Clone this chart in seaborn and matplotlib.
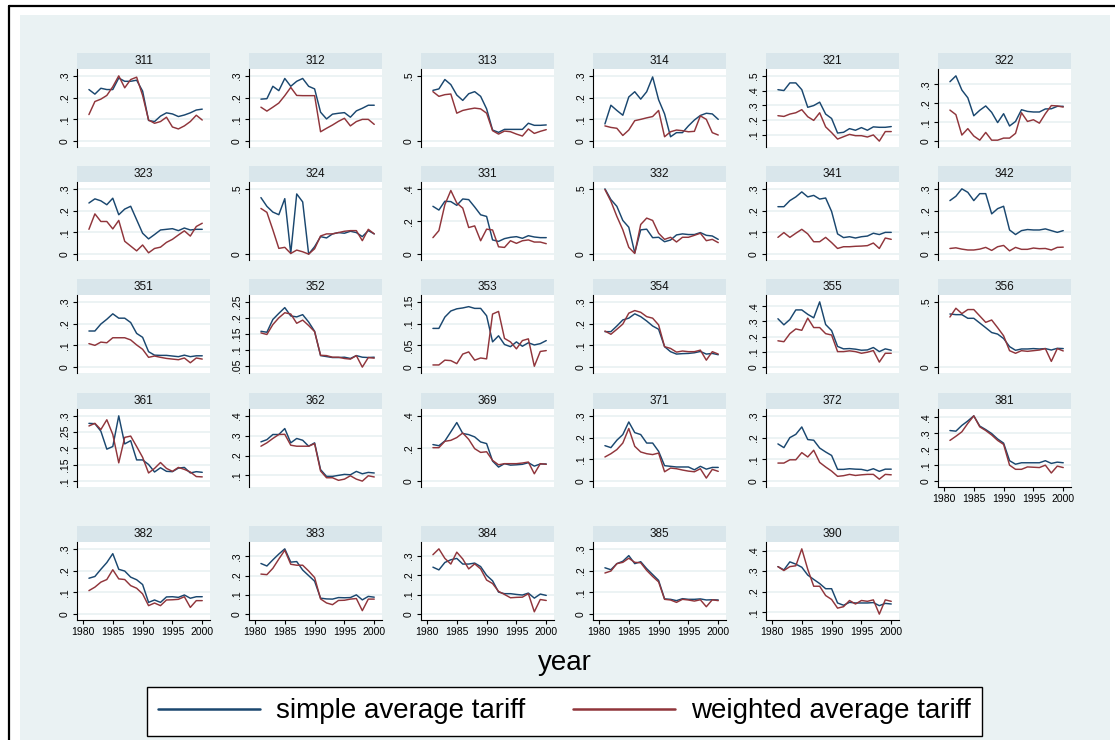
import pandas as pd
import seaborn as sns
import matplotlib.pyplot as plt
from matplotlib.patches import Rectangle
from matplotlib.lines import Line2D

sns.set_theme(style="white")
plt.rcParams["font.family"] = ["Liberation Sans", "DejaVu Sans"]
plt.rcParams["text.color"] = "black"
plt.rcParams["xtick.color"] = "black"
plt.rcParams["ytick.color"] = "black"

BLUE = "#1a476f"
RED = "#90353b"
BG = "#eaf2f3"
STRIP = "#d9e6eb"

YEARS = list(range(1981, 2001))
INDUSTRIES = [311, 312, 313, 314, 321, 322,
              323, 324, 331, 332, 341, 342,
              351, 352, 353, 354, 355, 356,
              361, 362, 369, 371, 372, 381,
              382, 383, 384, 385, 390]
SERIES = ["simple average tariff", "weighted average tariff"]

# 1981..2000
simple_311 = [.237, .216, .243, .237, .237, .29, .275, .275, .28, .23, .095, .09, .115, .13, .125, .113, .12, .13, .143, .147]
weighted_311 = [.122, .182, .193, .21, .25, .30, .245, .283, .294, .21, .097, .082, .09, .11, .065, .056, .07, .09, .119, .097]
simple_312 = [.193, .195, .252, .232, .288, .252, .275, .288, .252, .24, .133, .102, .124, .128, .131, .11, .139, .151, .165, .165]
weighted_312 = [.156, .138, .156, .175, .209, .247, .21, .209, .209, .209, .043, .059, .074, .091, .105, .07, .09, .1, .1, .077]
simple_313 = [.389, .40, .472, .433, .353, .312, .363, .379, .343, .247, .085, .067, .09, .09, .09, .09, .137, .121, .121, .124]
weighted_313 = [.379, .343, .356, .361, .214, .235, .245, .253, .247, .214, .08, .054, .077, .072, .054, .039, .093, .059, .075, .088]
simple_314 = [.079, .165, .141, .119, .203, .227, .193, .227, .295, .19, .125, .02, .039, .039, .07, .097, .118, .128, .125, .1]
weighted_314 = [.07, .063, .059, .026, .051, .094, .1, .107, .113, .141, .02, .043, .051, .048, .043, .045, .116, .1, .039, .028]
simple_321 = [.406, .40, .452, .452, .406, .286, .298, .321, .24, .21, .111, .116, .141, .13, .148, .13, .153, .15, .15, .155]
weighted_321 = [.229, .224, .24, .249, .27, .222, .197, .249, .153, .114, .07, .086, .102, .093, .093, .084, .098, .056, .121, .121]
simple_322 = [.314, .345, .27, .229, .134, .163, .186, .152, .098, .145, .08, .104, .166, .157, .154, .154, .17, .171, .184, .184]
weighted_322 = [.164, .14, .032, .066, .027, .005, .046, .005, .005, .016, .016, .041, .15, .104, .113, .095, .145, .188, .186, .18]
simple_323 = [.235, .254, .245, .227, .257, .181, .207, .22, .158, .096, .07, .09, .111, .114, .117, .108, .12, .111, .114, .114]
weighted_323 = [.114, .185, .15, .15, .116, .155, .059, .037, .015, .042, .006, .026, .032, .054, .068, .088, .107, .083, .127, .142]
simple_324 = [.433, .366, .322, .302, .425, .005, .461, .40, 0, .057, .134, .124, .155, .165, .16, .175, .165, .134, .18, .155]
weighted_324 = [.35, .32, .186, .044, .052, .005, .031, .018, 0, .041, .139, .155, .155, .165, .175, .18, .18, .103, .19, .155]
simple_331 = [.293, .27, .324, .322, .299, .338, .334, .289, .241, .231, .087, .078, .095, .103, .107, .097, .113, .105, .101, .101]
weighted_331 = [.101, .144, .303, .39, .313, .282, .163, .173, .082, .153, .148, .045, .041, .082, .066, .082, .087, .074, .074, .064]
simple_332 = [.5, .418, .366, .258, .206, .01, .186, .191, .126, .129, .095, .108, .147, .155, .15, .15, .165, .144, .139, .113]
weighted_332 = [.495, .405, .289, .186, .052, .005, .227, .276, .258, .16, .113, .129, .093, .129, .129, .144, .16, .103, .113, .088]
simple_341 = [.218, .218, .246, .263, .286, .263, .27, .253, .258, .196, .093, .076, .08, .074, .08, .083, .096, .09, .1, .1]
weighted_341 = [.077, .099, .077, .096, .114, .093, .057, .057, .077, .053, .026, .034, .034, .036, .037, .039, .051, .026, .074, .068]
simple_342 = [.246, .266, .30, .284, .246, .278, .278, .185, .209, .22, .111, .09, .108, .113, .111, .111, .116, .108, .1, .108]
weighted_342 = [.026, .029, .023, .019, .019, .023, .031, .017, .034, .04, .015, .031, .022, .022, .028, .025, .026, .019, .031, .032]
simple_351 = [.166, .166, .198, .22, .245, .225, .225, .205, .155, .137, .071, .055, .054, .054, .051, .048, .055, .048, .052, .052]
weighted_351 = [.108, .1, .115, .112, .135, .135, .135, .125, .102, .082, .045, .051, .045, .04, .037, .034, .042, .02, .042, .037]
simple_352 = [.158, .155, .195, .214, .232, .206, .203, .21, .187, .158, .082, .079, .076, .076, .077, .073, .082, .077, .076, .077]
weighted_352 = [.153, .148, .179, .2, .216, .212, .183, .193, .176, .157, .083, .082, .077, .077, .073, .071, .082, .046, .076, .074]
simple_353 = [.089, .089, .115, .129, .134, .136, .139, .135, .135, .118, .058, .072, .052, .047, .058, .048, .056, .051, .054, .061]
weighted_353 = [.005, .005, .016, .015, .008, .03, .035, .016, .021, .019, .122, .128, .066, .058, .042, .061, .065, .002, .036, .038]
simple_354 = [.163, .163, .189, .217, .225, .245, .232, .212, .189, .174, .094, .071, .06, .062, .063, .066, .072, .06, .063, .057]
weighted_354 = [.166, .151, .174, .198, .248, .26, .252, .232, .225, .194, .094, .086, .069, .074, .071, .071, .078, .032, .071, .06]
simple_355 = [.318, .278, .313, .376, .376, .347, .324, .429, .28, .24, .136, .12, .122, .118, .111, .113, .129, .102, .12, .111]
weighted_355 = [.173, .167, .22, .251, .242, .322, .26, .26, .22, .211, .102, .102, .107, .102, .091, .098, .109, .033, .091, .091]
simple_356 = [.407, .402, .402, .374, .374, .338, .302, .265, .253, .219, .157, .129, .139, .139, .142, .139, .142, .131, .144, .142]
weighted_356 = [.384, .451, .41, .441, .441, .392, .343, .361, .302, .24, .126, .106, .126, .121, .126, .131, .142, .044, .142, .124]
simple_361 = [.277, .276, .253, .198, .206, .30, .214, .224, .165, .165, .151, .128, .141, .13, .129, .14, .142, .125, .129, .127]
weighted_361 = [.269, .277, .258, .288, .243, .156, .234, .238, .206, .173, .125, .139, .157, .139, .13, .142, .136, .128, .114, .113]
simple_362 = [.269, .28, .306, .306, .336, .264, .286, .277, .247, .264, .129, .095, .095, .10, .105, .103, .12, .108, .115, .112]
weighted_362 = [.247, .264, .286, .306, .307, .252, .247, .247, .247, .26, .122, .088, .088, .075, .081, .098, .081, .071, .098, .092]
simple_369 = [.224, .217, .246, .302, .359, .292, .285, .271, .24, .23, .123, .086, .107, .098, .10, .103, .113, .092, .105, .105]
weighted_369 = [.205, .205, .244, .25, .267, .295, .256, .199, .176, .18, .127, .10, .107, .107, .107, .111, .117, .045, .107, .103]
simple_371 = [.163, .154, .188, .214, .272, .223, .214, .175, .175, .137, .071, .068, .065, .065, .065, .052, .068, .055, .063, .063]
weighted_371 = [.111, .126, .145, .175, .242, .16, .134, .126, .122, .129, .043, .06, .057, .051, .046, .043, .057, .014, .054, .045]
simple_372 = [.171, .154, .2, .215, .249, .191, .188, .152, .134, .118, .054, .054, .057, .055, .054, .048, .057, .045, .055, .055]
weighted_372 = [.083, .083, .098, .098, .131, .111, .142, .086, .065, .046, .022, .025, .031, .026, .029, .031, .031, .009, .031, .029]
simple_381 = [.317, .313, .349, .377, .409, .345, .323, .298, .264, .238, .128, .106, .115, .115, .115, .115, .128, .111, .119, .115]
weighted_381 = [.255, .281, .309, .362, .409, .34, .317, .289, .255, .23, .10, .074, .074, .089, .087, .085, .10, .051, .094, .085]
simple_382 = [.165, .173, .206, .237, .278, .206, .198, .17, .158, .136, .054, .065, .054, .079, .08, .077, .088, .073, .08, .08]
weighted_382 = [.108, .124, .147, .159, .204, .162, .159, .131, .119, .093, .039, .051, .039, .065, .066, .068, .08, .031, .062, .062]
simple_383 = [.263, .25, .282, .312, .339, .27, .273, .229, .2, .171, .083, .079, .078, .086, .085, .086, .10, .074, .092, .088]
weighted_383 = [.208, .205, .238, .286, .332, .259, .254, .254, .224, .19, .079, .058, .049, .071, .072, .078, .081, .018, .078, .078]
simple_384 = [.241, .227, .265, .279, .286, .257, .257, .262, .244, .199, .171, .113, .105, .105, .101, .098, .108, .082, .103, .096]
weighted_384 = [.305, .335, .286, .257, .318, .283, .232, .258, .232, .175, .157, .117, .101, .084, .086, .087, .105, .012, .075, .07]
simple_385 = [.213, .204, .232, .243, .269, .232, .241, .209, .182, .155, .07, .068, .062, .071, .068, .068, .07, .065, .066, .065]
weighted_385 = [.189, .198, .232, .238, .257, .238, .236, .201, .173, .148, .068, .065, .054, .068, .065, .06, .066, .034, .066, .062]
simple_390 = [.322, .306, .345, .334, .319, .281, .26, .24, .215, .215, .146, .135, .149, .146, .146, .146, .148, .133, .144, .141]
weighted_390 = [.322, .303, .322, .326, .408, .309, .227, .227, .182, .163, .121, .128, .158, .141, .158, .154, .161, .092, .161, .154]

YTICKS = {
    311: [0, .1, .2, .3], 312: [0, .1, .2, .3], 313: [0, .5], 314: [0, .1, .2, .3],
    321: [.1, .2, .3, .4, .5], 322: [0, .1, .2, .3], 323: [0, .1, .2, .3], 324: [0, .5],
    331: [0, .2, .4], 332: [0, .5], 341: [0, .1, .2, .3], 342: [0, .1, .2, .3],
    351: [0, .1, .2, .3], 352: [.05, .1, .15, .2, .25], 353: [0, .05, .1, .15],
    354: [0, .1, .2, .3], 355: [0, .1, .2, .3, .4], 356: [0, .5],
    361: [.1, .15, .2, .25, .3], 362: [.1, .2, .3, .4], 369: [0, .2, .4],
    371: [0, .1, .2, .3], 372: [0, .1, .2, .3], 381: [0, .1, .2, .3, .4],
    382: [0, .1, .2, .3], 383: [0, .1, .2, .3], 384: [0, .1, .2, .3],
    385: [0, .1, .2, .3], 390: [.1, .2, .3, .4],
}
XTICKS = [1980, 1985, 1990, 1995, 2000]

# long format
rows = []
for ind in INDUSTRIES:
    s = globals()[f"simple_{ind}"]
    w = globals()[f"weighted_{ind}"]
    for yr, a, b in zip(YEARS, s, w):
        rows.append((ind, yr, SERIES[0], a))
        rows.append((ind, yr, SERIES[1], b))
df = pd.DataFrame(rows, columns=["industry", "year", "series", "tariff"])


def stata_fmt(v):
    s = f"{v:g}"
    return s[1:] if s.startswith("0.") else s


FW, FH = 1115, 740
fig = plt.figure(figsize=(FW / 100, FH / 100), dpi=100)
fig.patch.set_facecolor("white")

# graph region + outer frame (behind everything)
bg = fig.add_axes([0, 0, 1, 1], zorder=-10)
bg.set_xlim(0, FW)
bg.set_ylim(FH, 0)
bg.axis("off")
bg.add_patch(Rectangle((20, 15), 1090, 740, facecolor=BG, edgecolor="none"))
bg.plot([8.5, FW], [5.5, 5.5], color="black", lw=1.6)
bg.plot([8.5, 8.5], [5.5, FH], color="black", lw=1.6)

COL_X = [77, 249, 421, 593, 766, 938]
ROW_TOP = [69, 182, 295, 409, 542]
PW, PH = 133, 78
STRIP_H = 16

n = len(INDUSTRIES)
for i, ind in enumerate(INDUSTRIES):
    r, c = divmod(i, 6)
    x0, y0 = COL_X[c], ROW_TOP[r]
    ax = fig.add_axes([x0 / FW, 1 - (y0 + PH) / FH, PW / FW, PH / FH])
    ax.set_facecolor("white")

    sub = df[df["industry"] == ind]
    sns.lineplot(data=sub, x="year", y="tariff", hue="series", hue_order=SERIES,
                 palette=[BLUE, RED], linewidth=1.05, legend=False, ax=ax)

    ticks = YTICKS[ind]
    lo = min(ticks[0], sub["tariff"].min())
    hi = max(ticks[-1], sub["tariff"].max())
    rng = hi - lo
    ax.set_ylim(lo - 0.09 * rng, hi + 0.105 * rng)
    ax.set_xlim(1979.0, 2001.3)
    ax.set_yticks(ticks)
    ax.set_yticklabels([stata_fmt(t) for t in ticks], rotation=90, va="center")
    ax.yaxis.grid(True, color=BG, linewidth=1.3)
    ax.set_axisbelow(True)
    ax.tick_params(axis="y", length=3, width=0.8, pad=2, labelsize=7.5, left=True, color="black")
    ax.set_xlabel("")
    ax.set_ylabel("")

    for sp in ["top", "right"]:
        ax.spines[sp].set_visible(False)
    ax.spines["left"].set_color("black")
    ax.spines["left"].set_linewidth(0.8)

    if i + 6 >= n:
        ax.set_xticks(XTICKS)
        ax.tick_params(axis="x", length=3, width=0.8, pad=2, labelsize=7.5, bottom=True, color="black")
        ax.spines["bottom"].set_color("black")
        ax.spines["bottom"].set_linewidth(0.8)
    else:
        ax.set_xticks([])
        ax.spines["bottom"].set_visible(False)

    # title strip
    sh = STRIP_H / PH
    ax.add_patch(Rectangle((0, 1), 1, sh, transform=ax.transAxes, facecolor=STRIP,
                           edgecolor="none", clip_on=False))
    ax.text(0.5, 1 + sh / 2, str(ind), transform=ax.transAxes, ha="center", va="center",
            fontsize=8.5, color="#111111")

fig.text(565 / FW, 1 - 663 / FH, "year", ha="center", va="center", fontsize=20)

handles = [Line2D([], [], color=BLUE, lw=1.8), Line2D([], [], color=RED, lw=1.8)]
leg = fig.legend(handles, SERIES, loc="center", bbox_to_anchor=(564.5 / FW, 1 - 711.5 / FH),
                 ncol=2, frameon=True, fancybox=False, edgecolor="black", fontsize=20,
                 framealpha=1, handlelength=3.67, handletextpad=0.6, columnspacing=1.7,
                 borderpad=0.4)
leg.get_frame().set_linewidth(1.0)
leg.get_frame().set_facecolor("white")

fig.savefig("out.png", dpi=100)
